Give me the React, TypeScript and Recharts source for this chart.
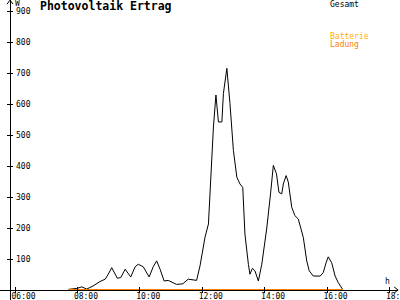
import React from 'react';
import { LineChart, Line, XAxis, YAxis, ReferenceLine } from 'recharts';

// time of day in decimal hours
const times = [7.71, 7.98, 8.14, 8.3, 8.5, 8.72, 8.89, 8.99, 9.1, 9.28, 9.39, 9.53, 9.71, 9.85, 9.95, 10.11, 10.3, 10.43, 10.54, 10.65, 10.78, 10.91, 11.18, 11.38, 11.55, 11.82, 11.93, 12.09, 12.2, 12.36, 12.44, 12.52, 12.63, 12.68, 12.79, 12.89, 13.0, 13.11, 13.21, 13.3, 13.37, 13.48, 13.53, 13.61, 13.69, 13.8, 13.91, 14.07, 14.19, 14.28, 14.38, 14.46, 14.55, 14.6, 14.69, 14.76, 14.87, 14.97, 15.08, 15.24, 15.35, 15.43, 15.56, 15.78, 15.88, 15.97, 16.04, 16.15, 16.26, 16.36, 16.5];
// Gesamt (W)
const gesamt = [2, 5, 10, 3, 13, 27, 35, 51, 72, 38, 40, 67, 42, 75, 83, 75, 42, 75, 94, 67, 29, 31, 18, 20, 35, 31, 78, 170, 213, 526, 629, 542, 542, 634, 715, 602, 450, 364, 342, 331, 180, 83, 51, 70, 62, 29, 83, 200, 310, 402, 375, 315, 310, 342, 369, 348, 267, 240, 229, 170, 94, 62, 45, 45, 56, 88, 107, 88, 45, 24, 2];
// Ladung (W)
const ladungTimes = [7.71, 16.5];
const ladung = [0, 0];

const xTicks = [6, 8, 10, 12, 14, 16, 18];
const yTicks = [100, 200, 300, 400, 500, 600, 700, 800, 900];

const FONT = '"DejaVu Sans Mono", "Liberation Mono", monospace';

const data = times.map((t, i) => ({ t, v: gesamt[i] }));
const ladungData = ladungTimes.map((t, i) => ({ t, v: ladung[i] }));

const fmtHour = (h: number) => (h < 10 ? '0' + h : '' + h) + ':00';

const XTick = (props: any) => {
  const { x, payload } = props;
  return (
    <g>
      <line x1={x} x2={x} y1={287} y2={293} stroke="#000" shapeRendering="crispEdges" />
      <text x={x - 3.5} y={298.5} fontSize={8} fontFamily={FONT} fill="#000">
        {fmtHour(payload.value)}
      </text>
    </g>
  );
};

const YTick = (props: any) => {
  const { y, payload } = props;
  return (
    <g>
      <line x1={7} x2={13} y1={y} y2={y} stroke="#000" shapeRendering="crispEdges" />
      <text x={16} y={y + 3} fontSize={8} fontFamily={FONT} fill="#000">
        {payload.value}
      </text>
    </g>
  );
};

const XAxisShape = (props: any) => {
  const { x1, y1, x2 } = props;
  return (
    <g>
      <line x1={x1} x2={x2} y1={y1} y2={y1} stroke="#000" shapeRendering="crispEdges" />
      <path d={`M${x2 - 4},${y1 - 3} L${x2},${y1} L${x2 - 4},${y1 + 3}`} stroke="#000" fill="none" />
    </g>
  );
};

const YAxisShape = (props: any) => {
  const { x1, y1, y2 } = props;
  const top = Math.min(y1, y2);
  const bottom = Math.max(y1, y2);
  return (
    <g>
      <line x1={x1} x2={x1} y1={top} y2={bottom} stroke="#000" shapeRendering="crispEdges" />
      <path d={`M${x1 - 3},${top + 4} L${x1},${top} L${x1 + 3},${top + 4}`} stroke="#000" fill="none" />
    </g>
  );
};

export default function App() {
  return (
    <div style={{ position: 'absolute', left: 0, top: 0, width: 400, height: 300, background: '#fff' }}>
      <LineChart
        width={400}
        height={300}
        margin={{ top: 11, right: 10.6, bottom: 0, left: 0 }}
      >
        <XAxis
          dataKey="t"
          type="number"
          domain={[6, 18]}
          ticks={xTicks}
          axisLine={false}
          tickLine={false}
          height={10}
          tick={<XTick />}
          allowDataOverflow
        />
        <YAxis
          type="number"
          domain={[0, 900]}
          ticks={yTicks}
          axisLine={false}
          tickLine={false}
          width={15}
          tick={<YTick />}
          allowDataOverflow
        />
        <ReferenceLine
          segment={[{ x: 5.52, y: 0 }, { x: 18.28, y: 0 }]}
          ifOverflow="visible"
          shape={<XAxisShape />}
        />
        <ReferenceLine
          segment={[{ x: 5.84, y: -32 }, { x: 5.84, y: 935 }]}
          ifOverflow="visible"
          shape={<YAxisShape />}
        />
        <Line
          data={data}
          dataKey="v"
          type="linear"
          stroke="#000"
          strokeWidth={1}
          dot={false}
          isAnimationActive={false}
        />
        <Line
          data={ladungData}
          dataKey="v"
          type="linear"
          stroke="#FF8000"
          strokeWidth={2}
          dot={false}
          isAnimationActive={false}
        />
      </LineChart>
      <svg width={400} height={300} style={{ position: 'absolute', left: 0, top: 0, pointerEvents: 'none' }}>
        <text x={40} y={10} fontSize={11.5} fontWeight="bold" fontFamily={FONT} fill="#000">Photovoltaik Ertrag</text>
        <text x={15} y={6} fontSize={8} fontFamily={FONT} fill="#000">W</text>
        <text x={385} y={284} fontSize={8} fontFamily={FONT} fill="#000">h</text>
        <text x={330} y={7} fontSize={8} fontFamily={FONT} fill="#000">Gesamt</text>
        <text x={330} y={39} fontSize={8} fontFamily={FONT} fill="#FFB000">Batterie</text>
        <text x={330} y={47} fontSize={8} fontFamily={FONT} fill="#FF8000">Ladung</text>
      </svg>
    </div>
  );
}
